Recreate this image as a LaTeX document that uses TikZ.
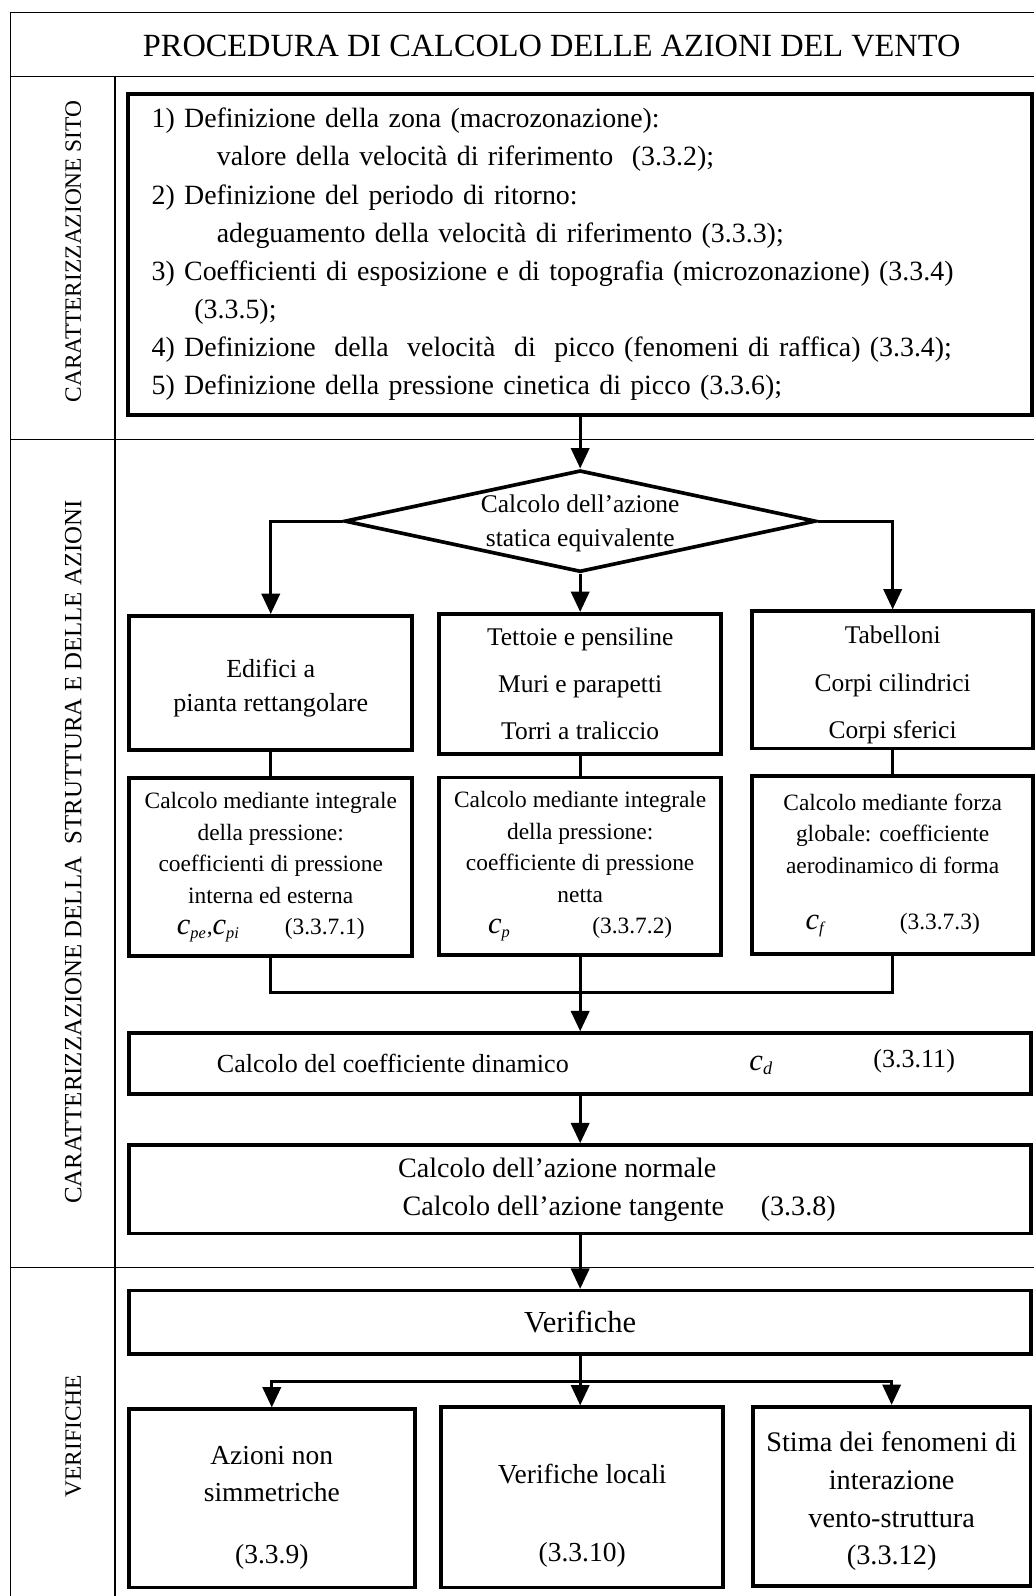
\documentclass[tikz,border=0pt]{standalone}
\usepackage{fontspec}
\setmainfont{Liberation Serif}
\usetikzlibrary{arrows.meta,shapes.geometric}
\newcommand{\coef}[1]{{\fontsize{15}{15}\selectfont\textit{c}}\textsubscript{\textit{#1}}}
\begin{document}
\begin{tikzpicture}[x=0.5pt,y=-0.5pt,
                    box/.style={draw,line width=1.8pt,align=center,inner sep=0pt},
                    txt/.style={align=center,inner sep=0pt},
                    conn/.style={line width=1.4pt},
                    arr/.style={conn,-{Triangle[width=9pt,length=10pt]}},
                    lab/.style={rotate=90,font=\fontsize{11.5}{14}\selectfont},
                    frame/.style={line width=0.6pt}]
                        \useasboundingbox (0,0) rectangle (1016,1568);
                        % frame and sections
                        \draw[frame] (1016,12) -- (10,12) -- (10,1568);
                        \draw[frame] (10,75) -- (1016,75);
                        \draw[frame] (113,75) -- (113,1568);
                        \draw[frame] (10,432) -- (1016,432);
                        \draw[frame] (10,1245) -- (1016,1245);
                        \node[font=\fontsize{15.9}{18}\selectfont] (title) at (542,45) {PROCEDURA DI CALCOLO DELLE AZIONI DEL VENTO};
                        \node[lab] (sec1) at (72,247) {CARATTERIZZAZIONE SITO};
                        \node[lab,font=\fontsize{12.2}{14}\selectfont] (sec2) at (72,837) {CARATTERIZZAZIONE DELLA\ \ STRUTTURA E DELLE AZIONI};
                        \node[lab] (sec3) at (72,1411) {VERIFICHE};
                        % site
                        \node[box,align=left,inner xsep=11.5pt,text width=421pt,minimum height=157.5pt,
                              font=\fontsize{13.7}{18.75}\selectfont] (sito) at (570,250)
                            {1) Definizione della zona (macrozonazione):\\
                             \hspace*{32pt}valore della velocità di riferimento\ \ (3.3.2);\\
                             2) Definizione del periodo di ritorno:\\
                             \hspace*{32pt}adeguamento della velocità di riferimento (3.3.3);\\
                             3) Coefficienti di esposizione e di topografia (microzonazione) (3.3.4)\\
                             \hspace*{21pt}(3.3.5);\\
                             4) Definizione\ \ della\ \ velocità\ \ di\ \ picco (fenomeni di raffica) (3.3.4);\\
                             5) Definizione della pressione cinetica di picco (3.3.6);};
                        % structure and actions
                        \node[box,diamond,aspect=4.63,minimum width=231.5pt,minimum height=50pt] (stat) at (570,512) {};
                        \node[txt,font=\fontsize{12.5}{16.5}\selectfont] (stattxt) at (570,514) {Calcolo dell'azione\\statica equivalente};
                        \node[box,minimum width=139pt,minimum height=66pt] (edif) at (266,671) {};
                        \node[txt,font=\fontsize{12.8}{16.5}\selectfont] (ediftxt) at (266,676) {Edifici a\\pianta rettangolare};
                        \node[box,minimum width=138.5pt,minimum height=69pt,font=\fontsize{12.5}{23}\selectfont] (tett) at (570,672) {Tettoie e pensiline\\Muri e parapetti\\Torri a traliccio};
                        \node[box,minimum width=138pt,minimum height=67.5pt] (tab) at (877,668) {};
                        \node[txt,font=\fontsize{12.5}{23.5}\selectfont] (tabtxt) at (877,673) {Tabelloni\\Corpi cilindrici\\Corpi sferici};
                        \node[box,minimum width=139pt,minimum height=87.5pt,font=\fontsize{11.5}{15.5}\selectfont] (intp) at (266,852)
                            {Calcolo mediante integrale\\della pressione:\\coefficienti di pressione\\interna ed esterna\\\coef{pe},\coef{pi}\hspace{22pt}(3.3.7.1)};
                        \node[box,minimum width=138.5pt,minimum height=87pt,font=\fontsize{11.5}{15.5}\selectfont] (intn) at (570,851)
                            {Calcolo mediante integrale\\della pressione:\\coefficiente di pressione\\netta\\\coef{p}\hspace{40pt}(3.3.7.2)};
                        \node[box,minimum width=138pt,minimum height=87.5pt,font=\fontsize{11.5}{15.5}\selectfont] (forza) at (877,850)
                            {Calcolo mediante forza\\globale: coefficiente\\aerodinamico di forma\\[12pt]\coef{f}\hspace{36pt}(3.3.7.3)};
                        \coordinate (merge) at (570,975);
                        \node[box,minimum width=443pt,minimum height=30pt] (dyn) at (570,1045) {};
                        \node[anchor=west,font=\fontsize{12.8}{15}\selectfont] (dyntxt) at (206,1045) {Calcolo del coefficiente dinamico};
                        \node[font=\fontsize{12.8}{15}\selectfont] (dync) at (748,1047) {\coef{d}};
                        \node[anchor=west,font=\fontsize{12.8}{15}\selectfont] (dynref) at (851,1043) {(3.3.11)};
                        \node[box,minimum width=443pt,minimum height=43.5pt] (azn) at (570,1168.5) {};
                        \node[anchor=west,align=left,font=\fontsize{13.8}{19}\selectfont] (azntxt) at (384,1169)
                            {Calcolo dell'azione normale\\\,Calcolo dell'azione tangente\hspace{18pt}(3.3.8)};
                        % checks
                        \node[box,minimum width=443pt,minimum height=31pt,font=\fontsize{15}{18}\selectfont] (verif) at (570,1299) {Verifiche};
                        \coordinate (split) at (570,1357);
                        \node[box,minimum width=140.5pt,minimum height=87.5pt] (asim) at (267,1472) {};
                        \node[txt,font=\fontsize{13.5}{18.5}\selectfont] (asimtxt) at (267,1481) {Azioni non\\simmetriche\\[11.5pt](3.3.9)};
                        \node[box,minimum width=138.5pt,minimum height=88.5pt] (loc) at (572,1471) {};
                        \node[txt,font=\fontsize{13.5}{18.5}\selectfont] (loctxt) at (572,1489) {Verifiche locali\\[20pt](3.3.10)};
                        \node[box,minimum width=136.5pt,minimum height=88pt] (stima) at (876,1470) {};
                        \node[txt,font=\fontsize{13.9}{18.5}\selectfont] (stimatxt) at (876,1475) {Stima dei fenomeni di\\interazione\\vento-struttura\\(3.3.12)};
                        % connectors
                        \draw[arr] (sito) -- (stat);
                        \draw[arr] (stat.west) -| (edif.north);
                        \draw[arr] (stat.south) -- (tett.north);
                        \draw[arr] (stat.east) -| (tab.north);
                        \draw[conn] (edif) -- (intp);
                        \draw[conn] (tett) -- (intn);
                        \draw[conn] (tab) -- (forza);
                        \draw[conn] (intp.south) |- (merge) -| (forza.south);
                        \draw[conn] (intn.south) -- (merge);
                        \draw[arr] (merge) -- (dyn.north);
                        \draw[arr] (dyn) -- (azn);
                        \draw[arr] (azn) -- (verif);
                        \draw[arr] (verif.south) -- (split |- loc.north);
                        \draw[arr] (split) -| (asim.north);
                        \draw[arr] (split) -| (stima.north);
                    \end{tikzpicture}
\end{document}
